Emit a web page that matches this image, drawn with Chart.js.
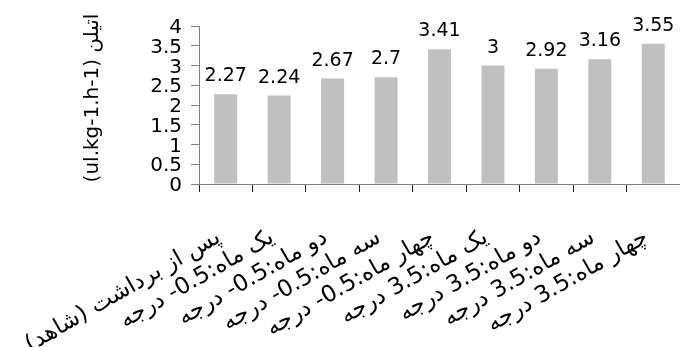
<!DOCTYPE html>
<html>
<head>
<meta charset="utf-8">
<script src="https://cdn.jsdelivr.net/npm/chart.js@4.4.1/dist/chart.umd.min.js"></script>
<style>
  html, body { margin: 0; padding: 0; background: #fff; }
  canvas { display: block; }
</style>
</head>
<body>
<canvas id="chart" width="680" height="347" dir="rtl"></canvas>
<script>
// Storage treatments (x axis)
const categories = [
  'پس از برداشت (شاهد)',
  'یک ماه:0.5- درجه',
  'دو ماه:0.5- درجه',
  'سه ماه:0.5- درجه',
  'چهار ماه:0.5- درجه',
  'یک ماه:3.5 درجه',
  'دو ماه:3.5 درجه',
  'سه ماه:3.5 درجه',
  'چهار ماه:3.5 درجه'
];

// Ethylene production per treatment
const ethylene = [2.27, 2.24, 2.67, 2.7, 3.41, 3, 2.92, 3.16, 3.55];

// Value axis tick labels
const yTickLabels = ['0', '0.5', '1', '1.5', '2', '2.5', '3', '3.5', '4'];

const yAxisTitle = 'اتیلن (ul.kg-1.h-1)';

const FONT = 'DejaVu Sans';

// Value printed above each bar
const valueLabels = {
  id: 'valueLabels',
  afterDatasetsDraw(chart) {
    const { ctx } = chart;
    const ds = chart.data.datasets[0];
    const meta = chart.getDatasetMeta(0);
    ctx.save();
    ctx.font = '19px "' + FONT + '"';
    ctx.fillStyle = '#000';
    ctx.textAlign = 'center';
    ctx.textBaseline = 'alphabetic';
    meta.data.forEach((bar, i) => {
      ctx.fillText(String(ds.data[i]), bar.x, bar.y - 13);
    });
    ctx.restore();
  }
};

// Rotated title of the value axis
const valueAxisTitle = {
  id: 'valueAxisTitle',
  afterDraw(chart) {
    const { ctx } = chart;
    ctx.save();
    ctx.translate(93, 98);
    ctx.rotate(-Math.PI / 2);
    ctx.font = '20px "' + FONT + '"';
    ctx.fillStyle = '#000';
    ctx.textAlign = 'center';
    ctx.textBaseline = 'middle';
    ctx.fillText(yAxisTitle, 0, 0);
    ctx.restore();
  }
};

new Chart(document.getElementById('chart'), {
  type: 'bar',
  data: {
    labels: categories,
    datasets: [{
      data: ethylene,
      backgroundColor: '#c0c0c0',
      borderWidth: 0,
      barPercentage: 0.43,
      categoryPercentage: 1
    }]
  },
  options: {
    responsive: false,
    animation: false,
    layout: { padding: { top: 26, right: -3, bottom: 0, left: 0 } },
    plugins: {
      legend: { display: false },
      tooltip: { enabled: false }
    },
    scales: {
      x: {
        offset: true,
        grid: {
          offset: true,
          drawOnChartArea: false,
          drawTicks: true,
          tickLength: 8,
          tickColor: '#222'
        },
        border: { display: true, color: '#808080', width: 1 },
        ticks: {
          autoSkip: false,
          maxRotation: 30,
          minRotation: 30,
          padding: 32,
          labelOffset: -7,
          color: '#000',
          font: { family: FONT, size: 23 }
        },
        afterFit(scale) {
          scale.height = 163;
          scale.paddingLeft = 0;
          scale.paddingRight = 0;
        }
      },
      y: {
        min: 0,
        max: 4,
        grid: {
          drawOnChartArea: false,
          drawTicks: true,
          tickLength: 8,
          tickColor: '#808080'
        },
        border: { display: true, color: '#808080', width: 1 },
        ticks: {
          stepSize: 0.5,
          autoSkip: false,
          padding: 9,
          labelOffset: 2,
          color: '#000',
          font: { family: FONT, size: 20 },
          callback: (value, index) => yTickLabels[index]
        },
        afterFit(scale) {
          scale.width = 199;
          scale.paddingTop = 0;
          scale.paddingBottom = 0;
        }
      }
    }
  },
  plugins: [valueLabels, valueAxisTitle]
});
</script>
</body>
</html>
